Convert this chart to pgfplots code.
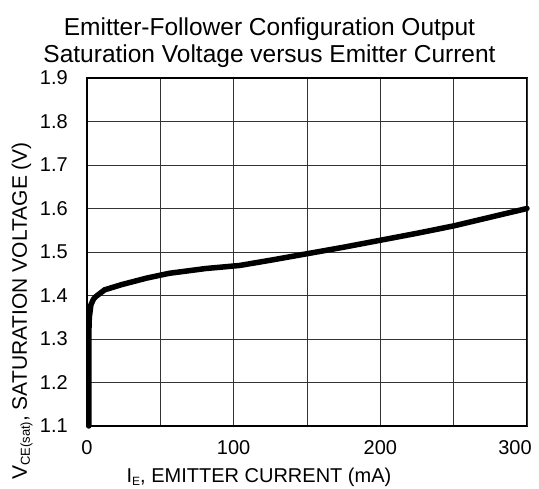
\documentclass[border=0pt]{standalone}
\usepackage{fontspec}
\setmainfont{Liberation Sans}
\usepackage{pgfplots}
\pgfplotsset{compat=1.18}
\begin{document}
\begin{tikzpicture}
\path[use as bounding box] (-87pt,-63pt) rectangle (452pt,426pt);
\begin{axis}[
  at={(0pt,0pt)}, anchor=south west,
  scale only axis, width=440pt, height=348pt,
  xmin=0, xmax=300, ymin=1.1, ymax=1.9,
  xtick={0,50,100,150,200,250,300},
  xticklabels={0,,100,,200,,},
  extra x ticks={300},
  extra x tick labels={300},
  extra x tick style={xticklabel style={xshift=-12pt}},
  ytick={1.1,1.2,1.3,1.4,1.5,1.6,1.7,1.8,1.9},
  yticklabels={1.1,1.2,1.3,1.4,1.5,1.6,1.7,1.8,1.9},
  major tick length=0pt,
  grid=major,
  major grid style={line width=0.9pt, black!80},
  axis line style={line width=1.2pt, black},
  tick label style={font=\fontsize{20}{24}\selectfont},
  xticklabel style={anchor=base, yshift=-29pt},
  yticklabel style={anchor=east, inner sep=0pt, xshift=-19pt},
  clip=false,
]
\addplot[black, line width=5.5pt, line cap=round, line join=round] coordinates {
(1.2,1.10) (1.2,1.25) (1.3,1.32) (1.6,1.35) (2.7,1.379) (4.5,1.392) (6.6,1.399)
(12,1.413) (23.6,1.425) (40.7,1.440) (56,1.451) (81,1.462) (104,1.469)
(125,1.481) (150,1.496) (175,1.511) (200,1.527) (225,1.543) (250,1.560)
(275,1.580) (300,1.600)
};
\end{axis}
\node[anchor=base, font=\fontsize{24.5}{27}\selectfont] at (182.5pt,390pt) {Emitter-Follower Configuration Output};
\node[anchor=base, font=\fontsize{24.5}{27}\selectfont] at (182.5pt,363pt) {Saturation Voltage versus Emitter Current};
\node[anchor=base, font=\fontsize{20}{24}\selectfont] at (172pt,-57pt) {I\raisebox{-3pt}{\fontsize{12}{12}\selectfont E}, EMITTER CURRENT (mA)};
\node[anchor=base, rotate=90, font=\fontsize{21}{24}\selectfont] at (-60pt,115pt) {V\raisebox{-3pt}{\fontsize{13}{13}\selectfont CE(sat)}, SATURATION VOLTAGE (V)};
\end{tikzpicture}
\end{document}
